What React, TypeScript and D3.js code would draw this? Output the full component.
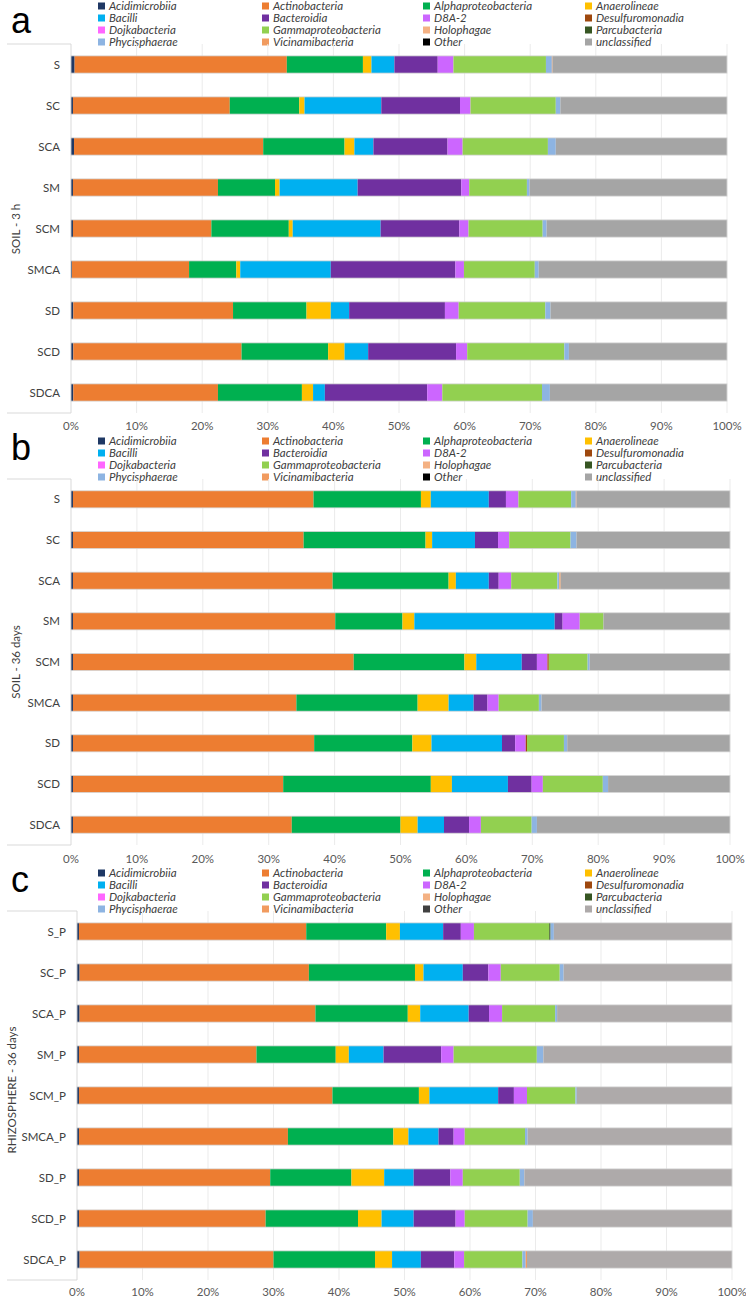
import React from "react";
import * as d3 from "d3";

// taxa in stacking order
const taxa = [
  "Acidimicrobiia", "Actinobacteria", "Alphaproteobacteria", "Anaerolineae",
  "Bacilli", "Bacteroidia", "D8A-2", "Desulfuromonadia",
  "Dojkabacteria", "Gammaproteobacteria", "Holophagae", "Parcubacteria",
  "Phycisphaerae", "Vicinamibacteria", "Other", "unclassified",
];
const taxonColors = [
  "#1f3864", "#ed7d31", "#00b050", "#ffc000",
  "#00b0f0", "#7030a0", "#cc66ff", "#9e480e",
  "#ff66ff", "#92d050", "#f4b183", "#375623",
  "#8db4e2", "#f19b5f", "#000000", "#a5a5a5",
];

const xTicks = [0, 10, 20, 30, 40, 50, 60, 70, 80, 90, 100];

// a - soil 3 h
const soil3hSamples = ["S", "SC", "SCA", "SM", "SCM", "SMCA", "SD", "SCD", "SDCA"];
const soil3hValues = [
  [0.55, 32.35, 11.6, 1.3, 3.5, 6.6, 2.4, 0, 0, 14.1, 0, 0, 0.9, 0.1, 0, 26.6],
  [0.3, 23.9, 10.6, 0.8, 11.7, 12.0, 1.6, 0, 0, 13.0, 0, 0, 0.7, 0, 0, 25.4],
  [0.46, 28.84, 12.4, 1.5, 2.9, 11.3, 2.3, 0, 0, 13.0, 0, 0, 1.2, 0, 0, 26.1],
  [0.3, 22.1, 8.7, 0.7, 11.9, 15.8, 1.2, 0, 0, 8.8, 0, 0, 0.4, 0, 0, 30.1],
  [0.3, 21.1, 11.8, 0.6, 13.4, 12.0, 1.4, 0, 0, 11.3, 0, 0, 0.6, 0, 0, 27.5],
  [0.15, 17.85, 7.2, 0.6, 13.8, 19.0, 1.3, 0, 0, 10.8, 0, 0, 0.6, 0, 0, 28.7],
  [0.35, 24.35, 11.2, 3.7, 2.8, 14.6, 2.1, 0, 0, 13.2, 0, 0, 0.8, 0, 0, 26.9],
  [0.35, 25.65, 13.2, 2.5, 3.6, 13.4, 1.7, 0, 0, 14.8, 0, 0, 0.7, 0, 0, 24.1],
  [0.35, 22.05, 12.8, 1.7, 1.8, 15.6, 2.3, 0, 0, 15.2, 0, 0, 1.2, 0, 0, 27.0],
];

// b - soil 36 days
const soil36Samples = ["S", "SC", "SCA", "SM", "SCM", "SMCA", "SD", "SCD", "SDCA"];
const soil36Values = [
  [0.3, 36.5, 16.3, 1.5, 8.8, 2.6, 1.9, 0, 0, 8.0, 0, 0, 0.7, 0.1, 0, 23.3],
  [0.3, 35.0, 18.5, 1.0, 6.5, 3.5, 1.7, 0, 0, 9.3, 0, 0, 0.9, 0, 0, 23.3],
  [0.3, 39.4, 17.6, 1.1, 5.0, 1.5, 1.9, 0, 0, 7.0, 0, 0, 0.3, 0.2, 0, 25.7],
  [0.3, 39.8, 10.2, 1.8, 21.3, 1.2, 2.6, 0, 0, 3.6, 0, 0, 0, 0, 0, 19.2],
  [0.3, 42.6, 16.8, 1.8, 6.9, 2.3, 1.6, 0.2, 0, 5.9, 0, 0, 0.3, 0, 0, 21.3],
  [0.3, 33.9, 18.4, 4.7, 3.8, 2.1, 1.7, 0, 0, 6.1, 0, 0, 0.4, 0, 0, 28.6],
  [0.3, 36.6, 14.9, 2.9, 10.7, 2.0, 1.6, 0.2, 0, 5.6, 0, 0, 0.5, 0, 0, 24.7],
  [0.3, 31.9, 22.4, 3.2, 8.5, 3.6, 1.7, 0, 0, 9.1, 0, 0, 0.8, 0, 0, 18.5],
  [0.3, 33.2, 16.5, 2.6, 4.0, 3.8, 1.8, 0, 0, 7.7, 0, 0, 0.8, 0, 0, 29.3],
];

// c - rhizosphere 36 days
const rhizoSamples = ["S_P", "SC_P", "SCA_P", "SM_P", "SCM_P", "SMCA_P", "SD_P", "SCD_P", "SDCA_P"];
const rhizoValues = [
  [0.3, 34.7, 12.2, 2.1, 6.6, 2.7, 2.0, 0, 0, 11.5, 0, 0.2, 0.5, 0, 0, 27.2],
  [0.4, 35.0, 16.2, 1.3, 6.0, 3.9, 1.9, 0, 0, 9.0, 0, 0, 0.6, 0, 0, 25.7],
  [0.4, 36.0, 14.1, 1.9, 7.4, 3.1, 2.0, 0, 0, 8.1, 0, 0, 0.3, 0, 0, 26.7],
  [0.3, 27.1, 12.1, 2.0, 5.3, 8.8, 1.9, 0, 0, 12.7, 0, 0, 1.0, 0, 0, 28.8],
  [0.3, 38.7, 13.2, 1.6, 10.5, 2.4, 2.0, 0, 0, 7.4, 0, 0, 0.2, 0, 0, 23.7],
  [0.3, 31.9, 16.1, 2.3, 4.6, 2.3, 1.7, 0, 0, 9.2, 0, 0, 0.4, 0, 0, 31.2],
  [0.3, 29.2, 12.4, 5.0, 4.5, 5.6, 1.9, 0, 0, 8.7, 0, 0, 0.7, 0, 0, 31.7],
  [0.3, 28.5, 14.1, 3.6, 4.9, 6.4, 1.4, 0, 0, 9.6, 0, 0, 0.8, 0, 0, 30.4],
  [0.4, 29.6, 15.5, 2.6, 4.4, 5.1, 1.5, 0, 0, 8.9, 0, 0, 0.5, 0.2, 0, 31.3],
];

const W = 746;
const H = 1301;
const font = "Lato, 'Open Sans', sans-serif";

const panels = [
  { letter: "a", title: "SOIL - 3 h", samples: soil3hSamples, values: soil3hValues,
    x0: 71, x1: 727, top: 44, bottom: 413, legendY: 6, letterY: 33, tickY: 430,
    labelRight: 60, titleX: 16, titleY: 229, other: "#000000", uncl: "#a5a5a5" },
  { letter: "b", title: "SOIL - 36 days", samples: soil36Samples, values: soil36Values,
    x0: 71, x1: 730, top: 479, bottom: 845, legendY: 441, letterY: 460, tickY: 863,
    labelRight: 60, titleX: 16, titleY: 662, other: "#000000", uncl: "#a5a5a5" },
  { letter: "c", title: "RHIZOSPHERE - 36 days", samples: rhizoSamples, values: rhizoValues,
    x0: 77, x1: 732, top: 911, bottom: 1280, legendY: 873, letterY: 892, tickY: 1296,
    labelRight: 66, titleX: 12, titleY: 1090, other: "#404040", uncl: "#aeaaaa" },
];

const legendCols = [98, 262, 423, 585];

function Panel({ p }: { p: (typeof panels)[number] }) {
  const x = d3.scaleLinear().domain([0, 100]).range([p.x0, p.x1]);
  const y = d3.scaleBand<string>().domain(p.samples).range([p.top, p.bottom])
    .paddingInner(0.58).paddingOuter(0.29);
  const rows = p.samples.map((s, i) => {
    const o: any = { sample: s };
    taxa.forEach((t, j) => (o[t] = p.values[i][j]));
    return o;
  });
  const series = d3.stack<any>().keys(taxa)(rows);
  const colorOf = (i: number) =>
    taxa[i] === "Other" ? p.other : taxa[i] === "unclassified" ? p.uncl : taxonColors[i];

  return (
    <g>
      <text x={11} y={p.letterY} fontFamily="'Liberation Sans', Arial, sans-serif"
        fontSize={36} fill="#000">{p.letter}</text>

      {taxa.map((t, i) => {
        const col = i % 4;
        const row = Math.floor(i / 4);
        const cy = p.legendY + row * 12;
        return (
          <g key={t}>
            <rect x={legendCols[col]} y={cy - 3.5} width={7} height={7} fill={colorOf(i)} />
            <text x={legendCols[col] + 11} y={cy + 4} fontFamily={font} fontSize={11.5}
              fontStyle="italic" fill="#404040">{t}</text>
          </g>
        );
      })}

      {/* gridlines */}
      {xTicks.slice(1).map(t => (
        <line key={t} x1={x(t)} x2={x(t)} y1={p.top} y2={p.bottom} stroke="#ebebeb" strokeWidth={1} />
      ))}
      <line x1={7} x2={p.x0} y1={p.top} y2={p.top} stroke="#d9d9d9" />
      <line x1={7} x2={p.x0} y1={p.bottom} y2={p.bottom} stroke="#d9d9d9" />
      <line x1={p.x0} x2={p.x0} y1={p.top} y2={p.bottom} stroke="#d9d9d9" />

      {series.map((s, i) => (
        <g key={s.key} fill={colorOf(i)}>
          {s.map(d => (
            <rect key={d.data.sample} x={x(d[0])} y={y(d.data.sample)}
              width={Math.max(0, x(d[1]) - x(d[0]))} height={y.bandwidth()} />
          ))}
        </g>
      ))}
      {p.samples.map(s => (
        <rect key={s} x={p.x0} y={y(s)} width={p.x1 - p.x0} height={y.bandwidth()}
          fill="none" stroke="#d6d6d6" strokeWidth={0.8} />
      ))}

      {p.samples.map(s => (
        <text key={s} x={p.labelRight} y={(y(s) as number) + y.bandwidth() / 2 + 4}
          textAnchor="end" fontFamily={font} fontSize={11.5} fill="#404040">{s}</text>
      ))}

      {xTicks.map(t => (
        <text key={t} x={x(t)} y={p.tickY} textAnchor="middle" fontFamily={font}
          fontSize={11.5} fill="#595959">{t}%</text>
      ))}

      <text transform={`translate(${p.titleX},${p.titleY}) rotate(-90)`} textAnchor="middle"
        fontFamily={font} fontSize={11.5} fill="#404040" dy="0.35em">{p.title}</text>
    </g>
  );
}

export default function App() {
  return (
    <svg width={W} height={H} style={{ position: "absolute", left: 0, top: 0, background: "#fff" }}>
      <rect width={W} height={H} fill="#fff" />
      {panels.map(p => <Panel key={p.letter} p={p} />)}
    </svg>
  );
}
